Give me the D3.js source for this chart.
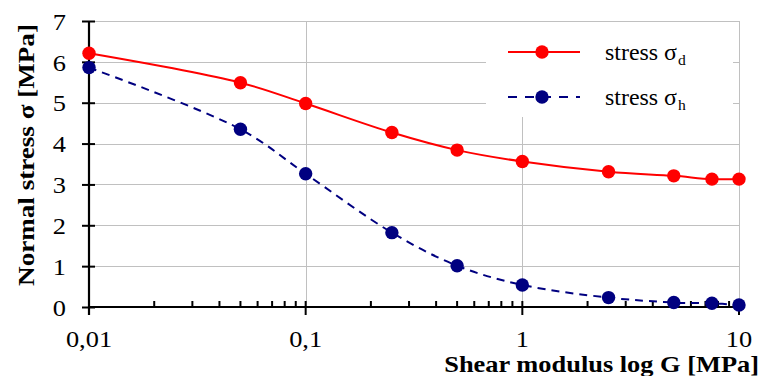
<!DOCTYPE html>
<html><head><meta charset="utf-8">
<script src="https://cdn.jsdelivr.net/npm/d3@7"></script>
<style>html,body{margin:0;padding:0;background:#fff;}svg{display:block;}</style>
</head><body>
<svg id="chart" width="762" height="376"></svg>
<script>
const shearG = [0.01, 0.05, 0.1, 0.25, 0.5, 1, 2.5, 5, 7.5, 10];
const stressD = [6.21, 5.49, 4.98, 4.27, 3.84, 3.56, 3.31, 3.21, 3.13, 3.13];
const stressH = [5.86, 4.35, 3.26, 1.82, 1.01, 0.54, 0.23, 0.11, 0.09, 0.05];
const xTickValues = [0.01, 0.1, 1, 10];
const xTickLabels = ["0,01", "0,1", "1", "10"];
const yTickValues = [0, 1, 2, 3, 4, 5, 6, 7];
const seriesNames = ["stress σ", "stress σ"];
const seriesSubs = ["d", "h"];

const W = 762, H = 376;
const m = {left: 89, right: 23, top: 21, bottom: 69};
const svg = d3.select("#chart");
const font = "'Liberation Serif','Times New Roman',serif";
const SX = 1.1;

const x = d3.scaleLog().domain([0.01, 10]).range([m.left, W - m.right]);
const y = d3.scaleLinear().domain([0, 7]).range([H - m.bottom, m.top]);

// gridlines
const grid = svg.append("g").attr("stroke", "#c0c0c0").attr("stroke-width", 1);
grid.selectAll("line.h").data(yTickValues.filter(v => v > 0)).join("line")
  .attr("x1", m.left).attr("x2", W - m.right)
  .attr("y1", d => Math.round(y(d)) + 0.5).attr("y2", d => Math.round(y(d)) + 0.5);
grid.selectAll("line.v").data(xTickValues.slice(1)).join("line")
  .attr("y1", m.top).attr("y2", H - m.bottom)
  .attr("x1", d => Math.round(x(d)) + 0.5).attr("x2", d => Math.round(x(d)) + 0.5);

// legend background
svg.append("rect").attr("x", 486).attr("y", 22).attr("width", 247).attr("height", 95).attr("fill", "#fff");

// Y axis
const yAxis = d3.axisLeft(y).tickValues(yTickValues).tickSize(0).tickFormat("");
const gy = svg.append("g").attr("transform", `translate(${m.left},0)`).call(yAxis);
gy.select(".domain").remove();
gy.append("line").attr("x1", 0).attr("x2", 0).attr("y1", y(7)).attr("y2", y(0) + 8)
  .attr("stroke", "#000").attr("stroke-width", 2.2);
gy.selectAll(".tick").append("line").attr("x1", -7).attr("x2", 6)
  .attr("stroke", "#000").attr("stroke-width", 2);
gy.selectAll(".tick").append("text")
  .attr("transform", `translate(-23,0) scale(${SX},1)`)
  .attr("dy", "0.34em").attr("text-anchor", "end")
  .attr("fill", "#000").attr("font-family", font).attr("font-size", 24)
  .text(d => d);

// X axis
const minorTicks = [];
for (let e = -2; e < 1; e++) for (let k = 2; k <= 9; k++) minorTicks.push(k * Math.pow(10, e));
const gx = svg.append("g").attr("transform", `translate(0,${y(0)})`);
gx.append("line").attr("x1", m.left).attr("x2", W - m.right).attr("stroke", "#000").attr("stroke-width", 2.2);
gx.selectAll("line.minor").data(minorTicks).join("line")
  .attr("x1", d => x(d)).attr("x2", d => x(d)).attr("y1", -6).attr("y2", 0)
  .attr("stroke", "#000").attr("stroke-width", 2);
gx.selectAll("line.major").data(xTickValues).join("line")
  .attr("x1", d => x(d)).attr("x2", d => x(d)).attr("y1", -6).attr("y2", 8)
  .attr("stroke", "#000").attr("stroke-width", 2);
gx.selectAll("text").data(xTickValues).join("text")
  .attr("transform", d => `translate(${x(d)},40) scale(${SX},1)`)
  .attr("text-anchor", "middle")
  .attr("font-family", font).attr("font-size", 24).attr("fill", "#000")
  .text((d, i) => xTickLabels[i]);

// axis titles
svg.append("text")
  .attr("transform", `translate(759,372) scale(${SX},1)`)
  .attr("text-anchor", "end").attr("font-family", font).attr("font-weight", "bold")
  .attr("font-size", 24).attr("fill", "#000")
  .text("Shear modulus  log G [MPa]");
svg.append("text")
  .attr("transform", `translate(34,155) rotate(-90) scale(1.13,1)`)
  .attr("text-anchor", "middle").attr("font-family", font).attr("font-weight", "bold")
  .attr("font-size", 24).attr("fill", "#000")
  .text("Normal stress σ [MPa]");

// lines
const series = [
  {vals: stressD, color: "#ff0000", dash: null},
  {vals: stressH, color: "#000080", dash: "8,6"}
];
const line = d3.line().x(d => x(d[0])).y(d => y(d[1])).curve(d3.curveCatmullRom.alpha(0.5));
series.forEach(s => {
  const pts = shearG.map((g, i) => [g, s.vals[i]]);
  svg.append("path").datum(pts).attr("d", line).attr("fill", "none")
    .attr("stroke", s.color).attr("stroke-width", 2).attr("stroke-dasharray", s.dash);
  svg.append("g").selectAll("circle").data(pts).join("circle")
    .attr("cx", d => x(d[0])).attr("cy", d => y(d[1])).attr("r", 6.7).attr("fill", s.color);
});

// legend
const legendY = [52, 97];
series.forEach((s, i) => {
  const g = svg.append("g").attr("transform", `translate(0,${legendY[i]})`);
  g.append("line").attr("x1", 508).attr("x2", 580).attr("stroke", s.color).attr("stroke-width", 2)
    .attr("stroke-dasharray", s.dash ? "9,8" : null);
  g.append("circle").attr("cx", 542).attr("r", 6.7).attr("fill", s.color);
  const t = g.append("text").attr("transform", `translate(605,8) scale(1.04,1)`)
    .attr("font-family", font).attr("font-size", 23).attr("fill", "#000");
  t.append("tspan").text(seriesNames[i]);
  t.append("tspan").attr("font-size", 15).attr("dy", 5).attr("dx", 1).text(seriesSubs[i]);
});
</script>
</body></html>
